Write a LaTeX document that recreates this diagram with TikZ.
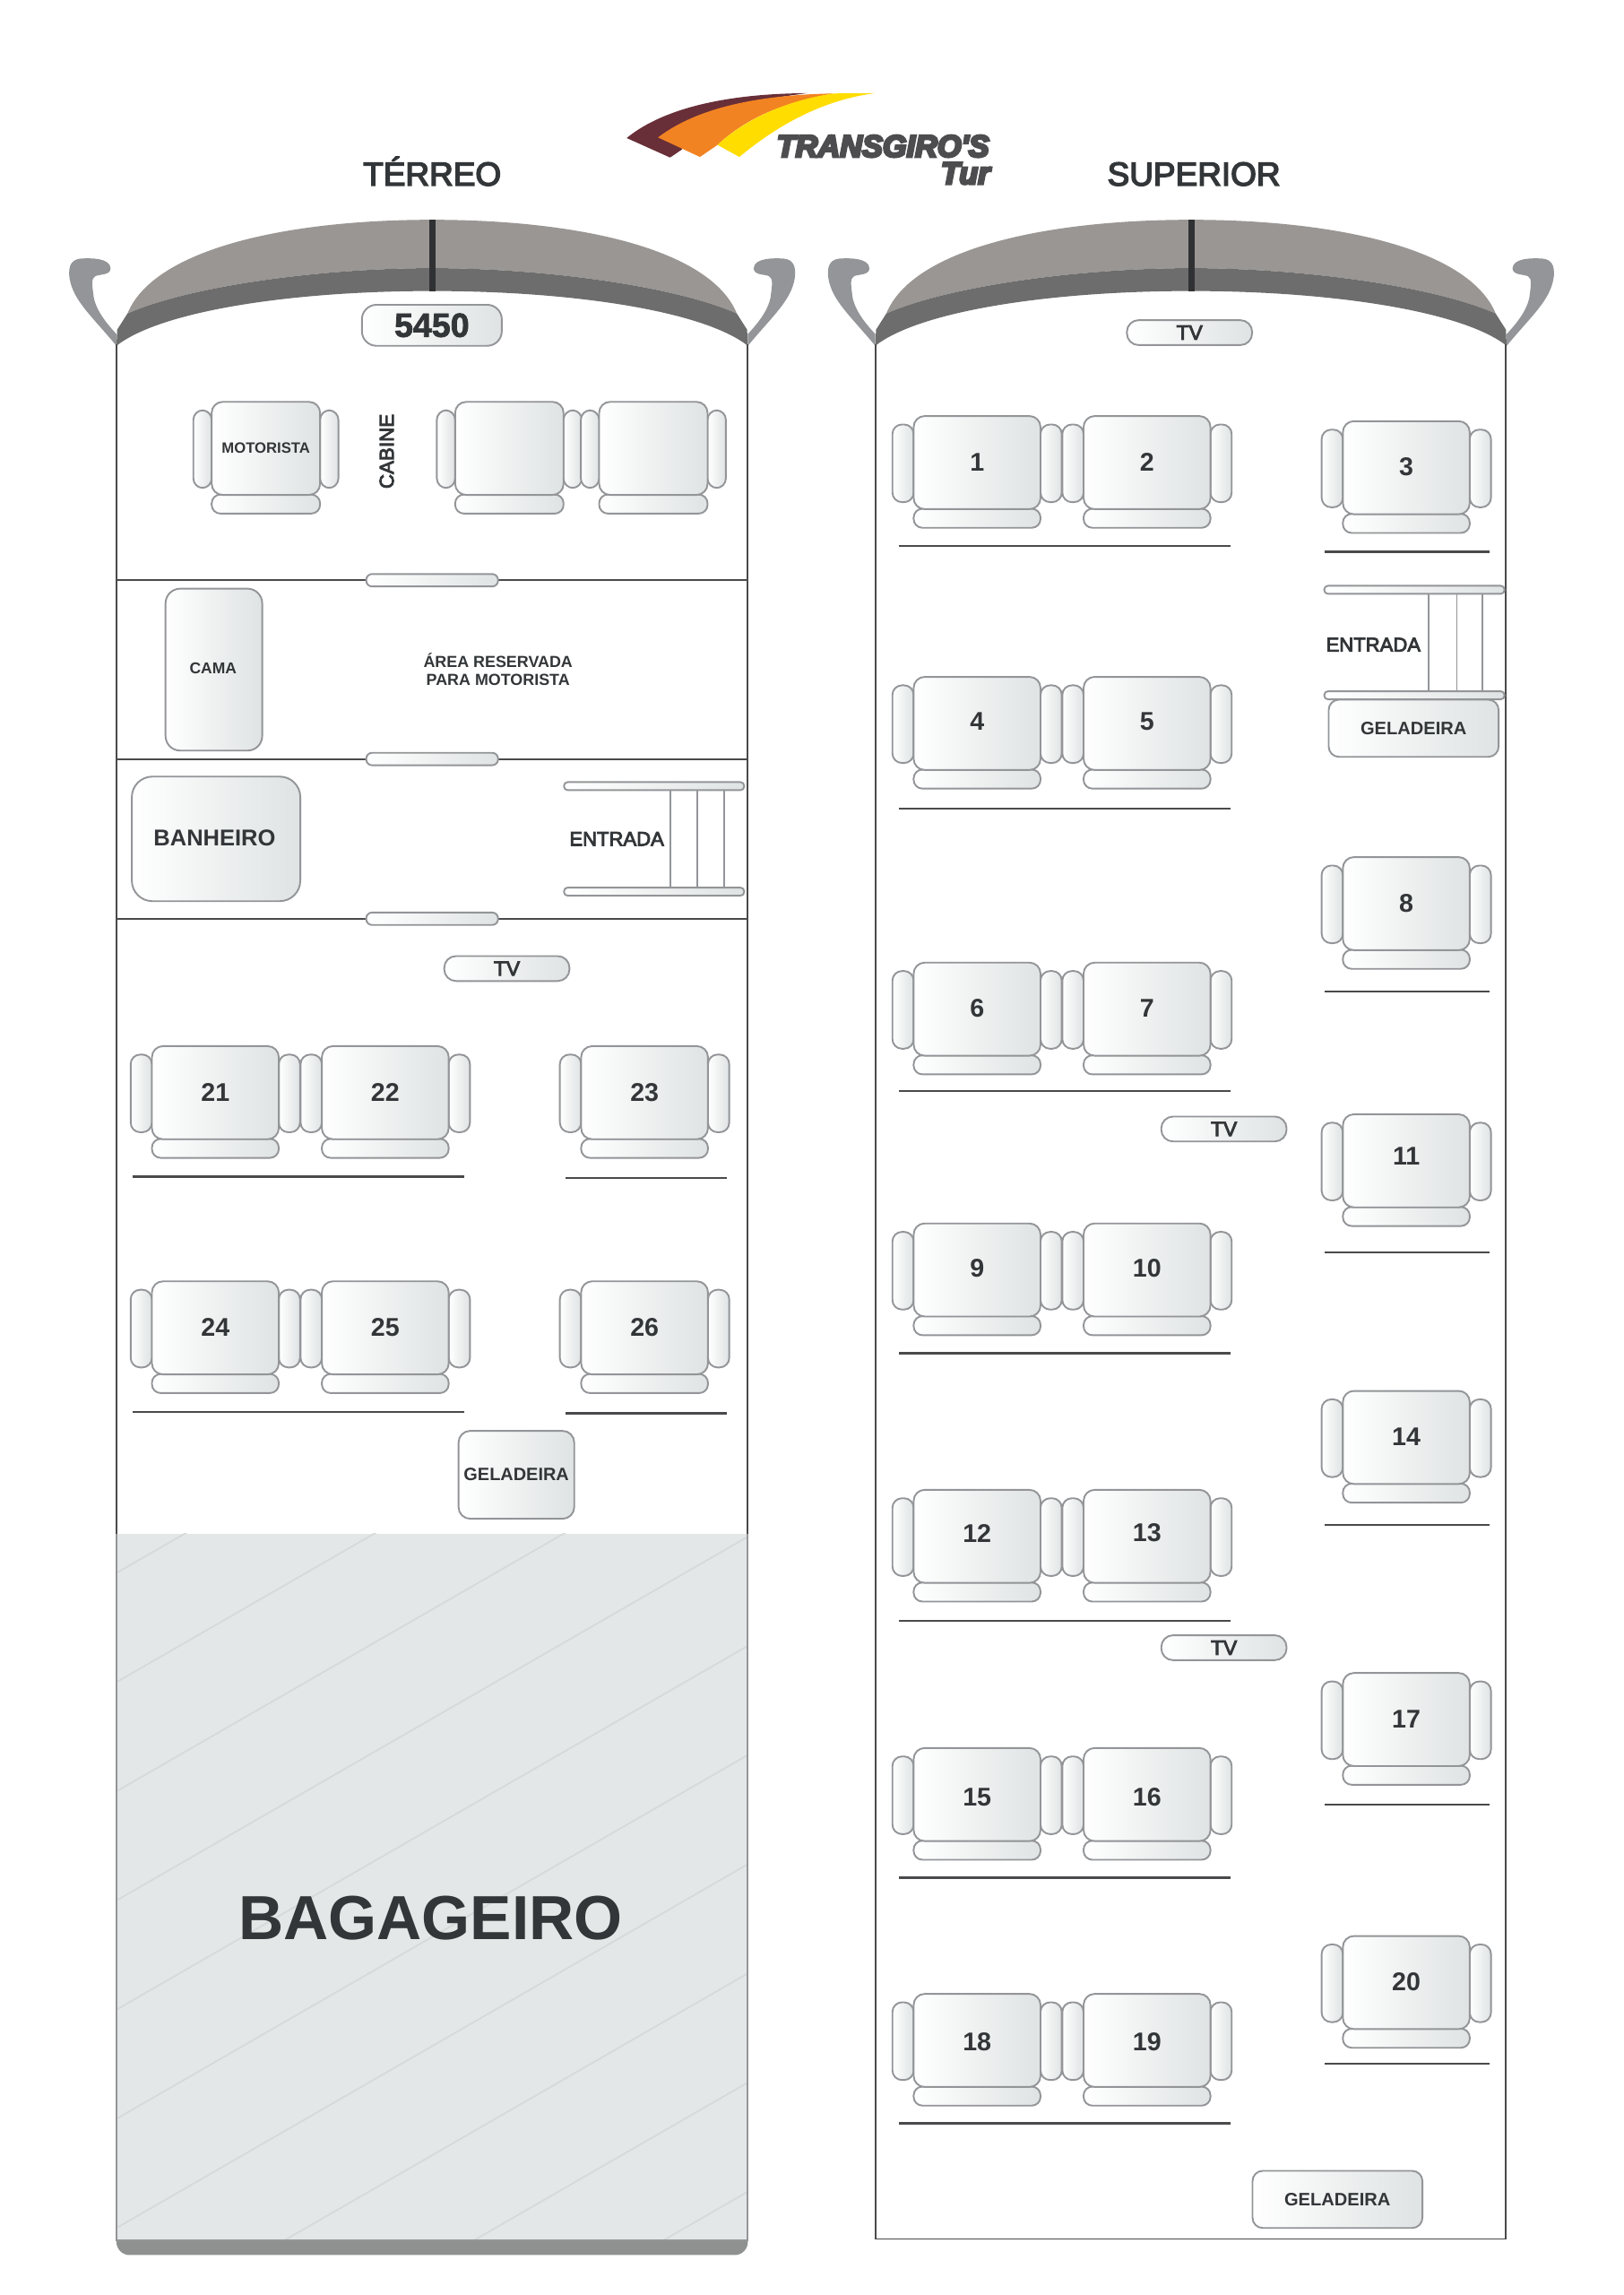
\documentclass[tikz,border=0pt]{standalone}
\usepackage{fontspec}
\setmainfont{Liberation Sans}
\newfontfamily\semib[FakeBold=4]{Liberation Sans}
\newfontfamily\heavyb[FakeBold=2]{Liberation Sans Bold}
\newfontfamily\logof[FakeBold=8]{Liberation Sans Bold Italic}
\newdimen\uu \uu=0.03cm
\definecolor{ink}{HTML}{333638}
\definecolor{seatline}{HTML}{939598}
\definecolor{gradr}{HTML}{DFE3E3}
\definecolor{bodyline}{HTML}{4A4A4C}
\definecolor{bagfill}{HTML}{E4E7E7}
\definecolor{bagline}{HTML}{D6D9D9}
\definecolor{bandc}{HTML}{8F9191}
\definecolor{rooflight}{HTML}{9A9693}
\definecolor{roofdark}{HTML}{6D6D6D}
\definecolor{roofbar}{HTML}{303133}
\definecolor{logobrown}{HTML}{682F38}
\definecolor{logoorange}{HTML}{F28322}
\definecolor{logoyellow}{HTML}{FFDD00}
\definecolor{logotext}{HTML}{4D4D4F}
\newcommand\fu[1]{\pgfmathsetmacro\fupt{#1*0.8535}\fontsize{\fupt pt}{\fupt pt}\selectfont}
\tikzset{
  gbox/.style={draw=seatline,line width=1pt,left color=white,right color=gradr,inner sep=0pt,text=ink,
    align=center,rectangle},
  bodywall/.style={draw=bodyline,line width=1pt},
  rowline/.style={draw=bodyline,line width=1.2pt},
  lab/.style={text=ink,inner sep=0pt,align=center},
}
% name, cx, cy, pad half width, arm width, label
\newcommand\seat[6]{%
  \node[gbox,minimum width=#5\uu,minimum height=53\uu,rounded corners=6.5\uu] (#1L) at ({#2-#4-#5/2},{#3+0.5}) {};
  \node[gbox,minimum width=#5\uu,minimum height=53\uu,rounded corners=6.5\uu] (#1R) at ({#2+#4+#5/2},{#3+0.5}) {};
  \node[gbox,minimum width={2*#4*\uu},minimum height=13\uu,rounded corners=6\uu] (#1B) at (#2,{#3+38}) {};
  \node[gbox,minimum width={2*#4*\uu},minimum height=63.5\uu,rounded corners=7.5\uu] (#1) at (#2,#3) {#6};
}
% number, cx, cy of the seat, y of the number
\newcommand\stdseat[4]{\seat{s#1}{#2}{#3}{43.3}{14.5}{}
  \node[lab,font=\bfseries\fu{17.5}] (n#1) at (#2,{#4-0.7}) {#1};}
\newcommand\doorpill[2]{\node[gbox,minimum width=90\uu,minimum height=8.5\uu,rounded corners=4\uu] (#1) at #2 {};}
\newcommand\tvbox[2]{\node[gbox,minimum width=85.5\uu,minimum height=17\uu,rounded corners=8\uu,font=\semib\fu{14}] (#1) at #2 {TV};}
\newcommand\geladeirabox[2]{\node[gbox,minimum width=116\uu,minimum height=39\uu,rounded corners=7\uu,font=\bfseries\fu{12.3}] (#1) at #2 {GELADEIRA};}
\newcommand\mirrorshape{\fill[seatline] (79.5,236) .. controls (62,215) and (50,205) .. (47.5,190) .. controls (46,180) and (50,177) .. (55,176.5)
      .. controls (62,176) and (75,176) .. (75.5,183) .. controls (75.5,188) and (68,187) .. (65,188.5)
      .. controls (62,190) and (63,195) .. (64,203) .. controls (66,213) and (74,222) .. (79.5,228) -- cycle;}
\newcommand\roofhead[1]{%
  \begin{scope}[shift={(#1,0)}]
    \mirrorshape
    \fill[rooflight] (87,214) .. controls (105,170) and (195,150) .. (295,150)
      .. controls (395,150) and (485,170) .. (503,214)
      .. controls (460,195) and (370,183) .. (295,183) .. controls (220,183) and (130,195) .. (87,214) -- cycle;
    \fill[roofdark] (79.5,236) -- (80,225) -- (87,214) .. controls (130,195) and (220,183) .. (295,183)
      .. controls (370,183) and (460,195) .. (503,214) -- (510,225) -- (510.5,236)
      .. controls (480,212) and (390,198.6) .. (295,198.6) .. controls (200,198.6) and (110,212) .. (79.5,236) -- cycle;
    \fill[roofbar] (293,150) rectangle (297.5,198.6);
  \end{scope}
  \begin{scope}[shift={(590+#1,0)},xscale=-1]
    \mirrorshape
  \end{scope}
}
\begin{document}
\begin{tikzpicture}[x=0.03cm,y=-0.03cm]
\useasboundingbox (0,0) rectangle (1108,1566.25);
\fill[white] (0,0) rectangle (1108,1566.25);

% ---- logo
\fill[logobrown] (427.8,94.2) .. controls (450,76) and (490,64) .. (550.6,63.6) -- (520,68)
  .. controls (500,74) and (480,88) .. (465,102.4) -- (457.4,107.5) -- cycle;
\fill[logoorange] (449.2,93.8) .. controls (470,78) and (505,65) .. (569,63.8)
  .. controls (535,70) and (510,80) .. (489.8,98.9) -- (477.8,107.1) -- cycle;
\fill[logoyellow] (489.8,98.9) .. controls (510,80) and (540,68) .. (569,63.8) -- (597,63.6)
  .. controls (565,68) and (535,82) .. (504.7,107.1) -- cycle;
\node[anchor=base west,inner sep=0pt,text=logotext,font=\logof\fu{21}] (logoA) at (530,107) {TRANSGIRO'S};
\node[anchor=base east,inner sep=0pt,text=logotext,font=\logof\fu{21}] (logoB) at (676,125.5) {Tur};

% ---- titles
\node[lab,anchor=base,font=\semib\fu{22.6}] (terreo) at (295,126.6) {TÉRREO};
\node[lab,anchor=base,font=\semib\fu{22.6}] (superior) at (815,126.6) {SUPERIOR};

% ---- heads
\roofhead{0}
\roofhead{518}

% ---- left deck: bagageiro
\fill[bandc] (79.5,1524) -- (510.5,1524) -- (510.5,1530) arc[start angle=0,end angle=90,radius=9] -- (88.5,1539) arc[start angle=90,end angle=180,radius=9] -- cycle;
\fill[bagfill] (79.5,1046.5) rectangle (510,1529);
\begin{scope}
  \clip (79.5,1046.5) rectangle (510,1529);
  \foreach \k in {0,...,9}
    \draw[bagline,line width=0.9pt] (79.5,{1073.5+74.5*\k}) -- (510,{1073.5+74.5*\k-248});
\end{scope}
\draw[seatline,line width=1pt] (79.5,1046.5) -- (79.5,1529) -- (510,1529) -- (510,1046.5);
\node[lab,font=\bfseries\fu{42.5}] (bag) at (294,1309) {BAGAGEIRO};

% ---- left deck walls
\draw[bodywall] (79.5,235) -- (79.5,1046.5);
\draw[bodywall] (510,235) -- (510,1046.5);
\foreach \yy in {396,518,627} \draw[bodywall] (79.5,\yy) -- (510,\yy);
\doorpill{dA}{(295,396)}
\doorpill{dB}{(295,518)}
\doorpill{dC}{(295,627)}

% ---- right deck walls
\draw[bodywall] (597.5,235) -- (597.5,1528) -- (1028,1528) -- (1028,235);

% ---- plate
\node[gbox,minimum width=95.5\uu,minimum height=28\uu,rounded corners=10\uu,font=\heavyb\fu{23}] (plate) at (294.8,222) {5450};

% ---- cabin
\seat{mot}{181.5}{306}{37}{12.5}{\bfseries\fu{10.2}MOTORISTA}
\seat{cabA}{347.7}{306}{37}{12.5}{}
\seat{cabB}{446}{306}{37}{12.5}{}
\node[lab,rotate=90,font=\semib\fu{13.7}] (cabine) at (264,308) {CABINE};

% ---- driver area
\node[gbox,minimum width=66\uu,minimum height=110.5\uu,rounded corners=10\uu] (cama) at (146,457) {};
\node[lab,font=\bfseries\fu{10.7}] (camat) at (145.5,456) {CAMA};
\node[lab,font=\bfseries\fu{10.95}] (area) at (340,457) {ÁREA RESERVADA\\[1pt]PARA MOTORISTA};
\node[gbox,minimum width=115\uu,minimum height=85\uu,rounded corners=14\uu] (banheiro) at (147.5,572.5) {};
\node[lab,font=\bfseries\fu{15.6}] (banheirot) at (146.5,572) {BANHEIRO};

% ---- entrada left
\foreach \xx in {457.5,476,494.5} \draw[seatline,line width=1pt] (\xx,537) -- (\xx,608);
\node[gbox,minimum width=123\uu,minimum height=5.5\uu,rounded corners=2.5\uu] (eLa) at (446.5,536.5) {};
\node[gbox,minimum width=123\uu,minimum height=5.5\uu,rounded corners=2.5\uu] (eLb) at (446.5,608.5) {};
\node[lab,font=\semib\fu{13.5}] (entL) at (421,572.5) {ENTRADA};

% ---- entrada right
\foreach \xx in {975.5,994.5,1012} \draw[seatline,line width=1pt] (\xx,403) -- (\xx,474);
\node[gbox,minimum width=123\uu,minimum height=5.5\uu,rounded corners=2.5\uu] (eRa) at (965.5,402.5) {};
\node[gbox,minimum width=123\uu,minimum height=5.5\uu,rounded corners=2.5\uu] (eRb) at (965.5,474.5) {};
\node[lab,font=\semib\fu{13.5}] (entR) at (937.5,440) {ENTRADA};

% ---- tv and geladeira
\tvbox{tvL}{(346,661)}
\tvbox{tvA}{(812,227)}
\tvbox{tvB}{(835.5,770.5)}
\tvbox{tvC}{(835.5,1124.5)}
\geladeirabox{gelA}{(965,497)}
\geladeirabox{gelB}{(913,1501)}
\node[gbox,minimum width=79\uu,minimum height=60\uu,rounded corners=8\uu,font=\bfseries\fu{12.2}] (gelC) at (352.5,1006.5) {GELADEIRA};

% ---- lower seats
\stdseat{21}{147}{745.7}{746}
\stdseat{22}{263}{745.7}{746}
\stdseat{23}{440}{745.7}{746}
\stdseat{24}{147}{906.2}{906.5}
\stdseat{25}{263}{906.2}{906.5}
\stdseat{26}{440}{906.2}{906.5}
\draw[rowline] (90.5,803) -- (317,803);
\draw[rowline] (386,804) -- (496,804);
\draw[rowline] (90.5,963.5) -- (317,963.5);
\draw[rowline] (386,964.5) -- (496,964.5);

% ---- upper seats
\stdseat{1}{667}{315.7}{316}
\stdseat{2}{783}{315.7}{316}
\stdseat{3}{960}{319.2}{319.5}
\stdseat{4}{667}{493.7}{493}
\stdseat{5}{783}{493.7}{493}
\stdseat{6}{667}{688.7}{689}
\stdseat{7}{783}{688.7}{689}
\stdseat{8}{960}{616.7}{617}
\stdseat{9}{667}{866.7}{866}
\stdseat{10}{783}{866.7}{866}
\stdseat{11}{960}{792.2}{790}
\stdseat{12}{667}{1048.5}{1047}
\stdseat{13}{783}{1048.5}{1047}
\stdseat{14}{960}{981}{981}
\stdseat{15}{667}{1224.7}{1227}
\stdseat{16}{783}{1224.7}{1227}
\stdseat{17}{960}{1173.5}{1174}
\stdseat{18}{667}{1392.5}{1394}
\stdseat{19}{783}{1392.5}{1394}
\stdseat{20}{960}{1353}{1353}
\foreach \yy in {372.5,552,744.5,923.5,1106,1281.5,1449} \draw[rowline] (613.5,\yy) -- (840,\yy);
\foreach \yy in {376.5,676.5,854.5,1040.5,1231.5,1408.5} \draw[rowline] (904,\yy) -- (1017,\yy);
\end{tikzpicture}
\end{document}
